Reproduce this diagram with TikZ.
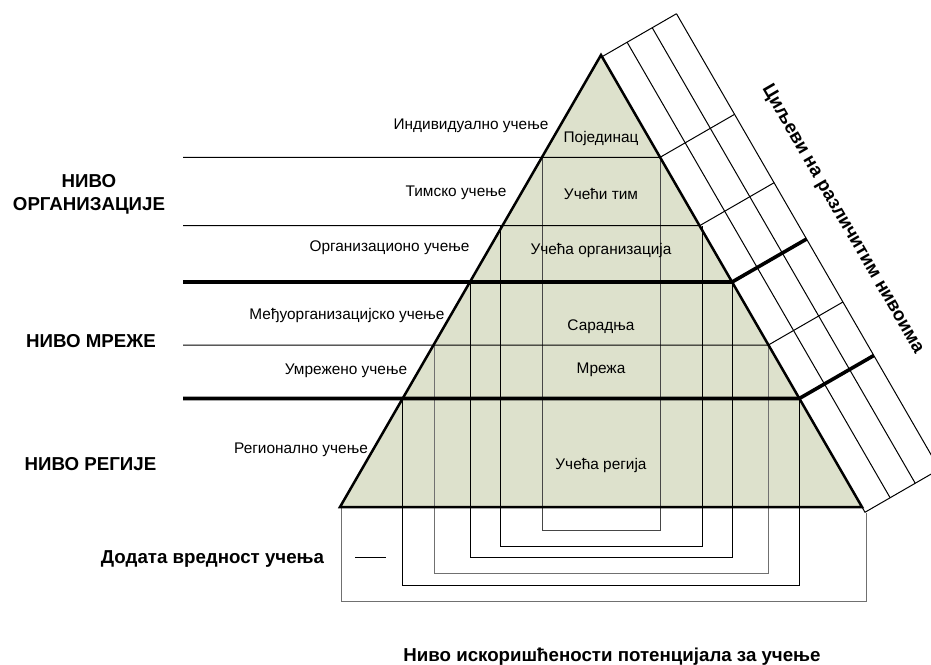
\documentclass[tikz,border=0pt]{standalone}
\usepackage{fontspec}
\setmainfont{Liberation Sans}
\usetikzlibrary{calc}
\definecolor{pyrfill}{RGB}{221,225,204}
\definecolor{brgray}{RGB}{112,112,112}
\definecolor{brdark}{RGB}{70,70,70}
\begin{document}
\begin{tikzpicture}[x=1pt,y=-1pt,
  lbl/.style={font=\fontsize{15.4}{18}\selectfont, inner sep=0pt, anchor=base},
  head/.style={font=\fontsize{18.7}{23}\selectfont\bfseries, inner sep=0pt, anchor=base},
  hair/.style={line width=1pt},
  heavy/.style={line width=3.6pt},
  rim/.style={line width=2.5pt, line join=miter},
]
\useasboundingbox (0,0) rectangle (931,664);

% pyramid corners
\coordinate (A) at (601,55);
\coordinate (BL) at (340,507);
\coordinate (BR) at (862,507);
\fill[pyrfill] (A) -- (BL) -- (BR) -- cycle;

% nested brackets: potential used at every level
\draw[hair, brdark] (542,157.3) -- (542,530) -- (660,530) -- (660,157.3);
\draw[hair] (500,225.7) -- (500,546) -- (702,546) -- (702,225.7);
\draw[hair] (470,282) -- (470,557) -- (732,557) -- (732,282);
\draw[hair, brgray] (434,345) -- (434,573) -- (768,573) -- (768,345);
\draw[hair] (402.7,398.5) -- (402.7,585.5) -- (799.5,585.5) -- (799.5,398.5);
\draw[hair, brgray] (341.5,507) -- (341.5,601) -- (866,601) -- (866,513);
\draw[hair] (355,557) -- (386,557);

% level lines, continued across the goals strip
\draw[hair] (183,157.3) -- (660.1,157.3) -- ++(74.5,-43);
\draw[hair] (183,225.7) -- (699.6,225.7) -- ++(74.5,-43);
\draw[heavy] (183,282) -- (732.1,282) -- ++(74.5,-43);
\draw[hair] (183,345) -- (768.4,345) -- ++(74.5,-43);
\draw[heavy] (183,398.5) -- (799.3,398.5) -- ++(74.5,-43);

% goals strip along the right side
\begin{scope}[shift={(601,55)}, x={(0.8660pt,0.5pt)}, y={(0.5pt,-0.8660pt)}]
  \draw[hair] (0,2) -- (86,2);
  \foreach \v in {29,58,86} \draw[hair] (\v,2) -- (\v,528);
  \draw[hair] (0,520) -- (0,528) -- (86,528);
\end{scope}

% pyramid outline
\draw[rim] (A) -- (BL) -- (BR) -- cycle;

% texts inside the pyramid
\node[lbl] (t1) at (601,142) {Појединац};
\node[lbl] (t2) at (601,199) {Учећи тим};
\node[lbl] (t3) at (601,254) {Учећа организација};
\node[lbl] (t4) at (601,330) {Сарадња};
\node[lbl] (t5) at (601,373) {Мрежа};
\node[lbl] (t6) at (601,469) {Учећа регија};

% kinds of learning
\node[lbl] (k1) at (471,129) {Индивидуално учење};
\node[lbl] (k2) at (456,196) {Тимско учење};
\node[lbl] (k3) at (389.5,251) {Организационо учење};
\node[lbl] (k4) at (347,319) {Међуорганизацијско учење};
\node[lbl] (k5) at (346,374) {Умрежено учење};
\node[lbl] (k6) at (301,453) {Регионално учење};

% level headings
\node[head, align=center] (h1) at (89,210) {НИВО\\ОРГАНИЗАЦИЈЕ};
\node[head] (h2) at (91,347) {НИВО МРЕЖЕ};
\node[head] (h3) at (90.5,470) {НИВО РЕГИЈЕ};
\node[head] (h4) at (212.5,563) {Додата вредност учења};
\node[head] (h5) at (612,661) {Ниво искоришћености потенцијала за учење};
\node[head, anchor=center, rotate=-60] (h6) at (842.5,219.3) {Циљеви на различитим нивоима};
\end{tikzpicture}
\end{document}
